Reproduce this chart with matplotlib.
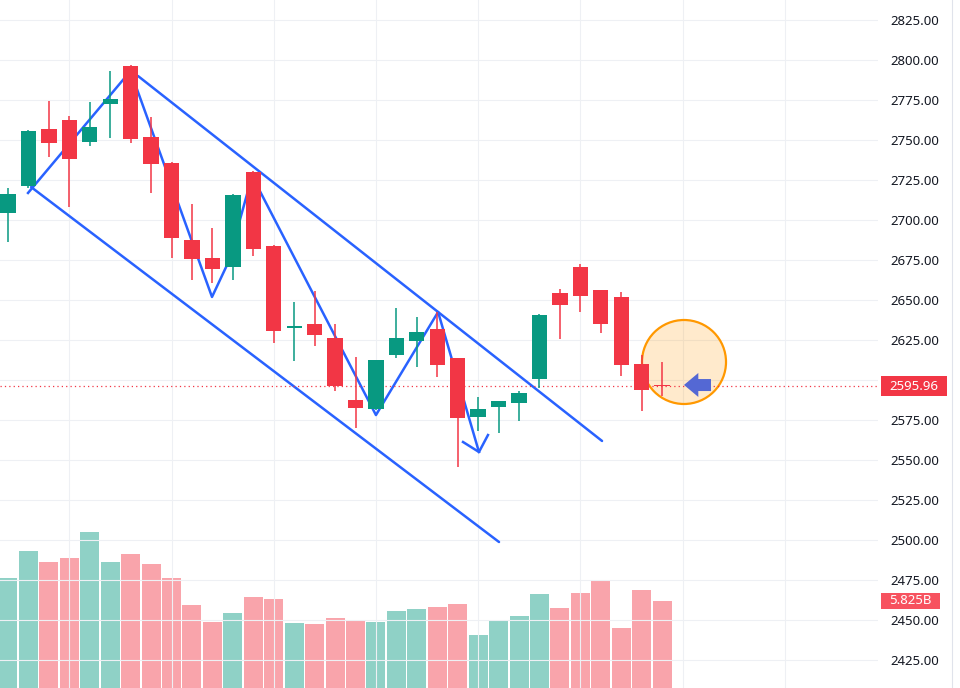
import numpy as np
import matplotlib
matplotlib.use('Agg')
import matplotlib.pyplot as plt
from matplotlib.patches import Rectangle, Ellipse, Polygon
from matplotlib.lines import Line2D

# candles (oldest first)
opens = [2704.4, 2721.25, 2756.9, 2762.5, 2748.75, 2772.5, 2796.25, 2751.9, 2735.6, 2687.5,
         2676.25, 2670.6, 2730.0, 2683.75, 2632.8, 2635.0, 2626.25, 2587.5, 2581.9, 2615.6,
         2624.4, 2631.9, 2613.75, 2576.9, 2583.1, 2585.6, 2600.6, 2654.4, 2670.6, 2656.25,
         2651.9, 2610.0, 2596.4]
highs = [2720.0, 2756.0, 2774.4, 2765.0, 2773.75, 2793.1, 2797.0, 2764.4, 2736.0, 2710.0,
         2695.0, 2716.0, 2730.5, 2684.4, 2648.75, 2655.6, 2635.0, 2614.4, 2612.5, 2645.0,
         2639.4, 2642.5, 2614.0, 2589.4, 2587.0, 2593.1, 2641.0, 2656.9, 2672.5, 2656.5,
         2655.0, 2615.6, 2611.25]
lows = [2686.25, 2720.0, 2739.4, 2708.1, 2746.25, 2751.25, 2748.1, 2716.9, 2676.25, 2662.5,
        2660.6, 2662.5, 2677.5, 2623.1, 2611.9, 2621.25, 2593.1, 2570.0, 2581.0, 2613.75,
        2608.1, 2601.9, 2545.6, 2568.1, 2566.9, 2574.4, 2595.0, 2625.6, 2642.5, 2629.4,
        2602.5, 2580.6, 2590.0]
closes = [2716.25, 2755.6, 2748.1, 2738.1, 2758.1, 2775.6, 2750.6, 2735.0, 2688.75, 2675.6,
          2669.4, 2715.6, 2681.9, 2630.6, 2633.6, 2628.1, 2596.25, 2582.5, 2612.5, 2626.25,
          2630.0, 2609.4, 2576.25, 2581.9, 2586.9, 2591.9, 2640.6, 2646.9, 2652.5, 2635.0,
          2609.4, 2593.75, 2595.96]
volumes = [7.36, 9.17, 8.44, 8.70, 10.45, 8.44, 8.97, 8.30, 7.36, 5.56,
           4.42, 5.02, 6.09, 5.96, 4.35, 4.29, 4.69, 4.49, 4.42, 5.16,
           5.29, 5.42, 5.62, 3.55, 4.55, 4.82, 6.29, 5.36, 6.36, 7.23,
           4.02, 6.56, 5.825]  # billions

price_ticks = np.arange(2425, 2826, 25)

# hand drawings, in (candle index, price)
chan_up_x, chan_up_y = [6.36, 29.06], [2790.0, 2561.9]
chan_lo_x, chan_lo_y = [1.13, 24.02], [2720.6, 2498.75]
zig_x = [0.98, 5.99, 9.98, 10.76, 11.94, 18.0, 21.04, 23.04]
zig_y = [2716.9, 2793.1, 2651.9, 2673.1, 2727.5, 2578.1, 2642.5, 2555.0]
head_x = [22.26, 23.04, 23.48]
head_y = [2561.25, 2555.0, 2565.6]
circ_x, circ_y = 33.07, 2611.25
barrow_x = [33.07, 33.77, 33.77, 34.39, 34.39, 33.77, 33.77]
barrow_y = [2596.9, 2604.4, 2600.6, 2600.6, 2593.1, 2593.1, 2589.4]

UP = '#089981'
DOWN = '#F23645'
BLUE = '#2962FF'

W, H = 960, 688
fig = plt.figure(figsize=(W / 100, H / 100), dpi=100)
fig.patch.set_facecolor('white')
pos = [0, 0, 878 / W, 1]
xlim = (-0.391, 42.56)

axv = fig.add_axes(pos)
ax = fig.add_axes(pos)
ax.patch.set_alpha(0)

n = len(closes)
idx = np.arange(n)
o = np.array(opens)
c = np.array(closes)
colors = np.where(c >= o, UP, DOWN)

# volume pane
axv.bar(idx, volumes, width=0.93, color=colors, alpha=0.45, linewidth=0)
axv.set_xlim(xlim)
axv.set_ylim(0, 46.06)
axv.axis('off')

# grid / price scale
ax.set_xlim(xlim)
ax.set_ylim(2407.5, 2837.5)
ax.set_xticks(np.arange(3, 43, 5))
ax.set_yticks(price_ticks)
ax.set_yticklabels([f'{t:.2f}' for t in price_ticks])
ax.yaxis.tick_right()
ax.tick_params(axis='x', length=0, labelbottom=False)
ax.tick_params(axis='y', length=0, pad=9, labelsize=9.5, labelcolor='#131722')
for lab in ax.get_yticklabels():
    lab.set_fontfamily('Noto Sans')
ax.grid(color='#EEF0F4', lw=0.8)
ax.set_axisbelow(True)
for s in ax.spines.values():
    s.set_visible(False)

# drawings (under candles)
ax.plot(chan_up_x, chan_up_y, color=BLUE, lw=1.8, zorder=2, solid_capstyle='round')
ax.plot(chan_lo_x, chan_lo_y, color=BLUE, lw=1.8, zorder=2, solid_capstyle='round')
ax.plot(zig_x, zig_y, color=BLUE, lw=1.8, zorder=2)
ax.plot(head_x, head_y, color=BLUE, lw=1.8, zorder=2)

ax.add_patch(Ellipse((circ_x, circ_y), 84 / 20.44, 84 / 1.6, facecolor='#FF9800',
                     alpha=0.2, edgecolor='none', zorder=1.5))
ax.add_patch(Ellipse((circ_x, circ_y), 84 / 20.44, 84 / 1.6, facecolor='none',
                     edgecolor='#FF9800', lw=1.6, zorder=2.2))

ax.axhline(closes[-1], color=DOWN, lw=0.9, ls=(0, (1, 2.5)), zorder=2.5)

# candles
ax.vlines(idx, lows, highs, colors=colors, lw=1.1, zorder=3)
body = np.maximum(np.abs(c - o), 1.0)
ax.bar(idx, body, bottom=np.minimum(o, c), width=0.75, color=colors, linewidth=0, zorder=4)

ax.add_patch(Polygon(list(zip(barrow_x, barrow_y)), closed=True, facecolor='#5468D4',
                     edgecolor='none', zorder=6))

# last price / volume labels on the scale
fig.canvas.draw()
yp = ax.transData.transform((0, closes[-1]))[1] / H
fig.add_artist(Rectangle((881 / W, yp - 10 / H), 66 / W, 20 / H, transform=fig.transFigure,
                         facecolor=DOWN, edgecolor='none', zorder=5))
fig.text(914 / W, yp, f'{closes[-1]:.2f}', ha='center', va='center', color='white',
         fontsize=9.5, family='Noto Sans', zorder=6)

yv = axv.transData.transform((0, volumes[-1]))[1] / H
fig.add_artist(Rectangle((881 / W, yv - 8 / H), 59 / W, 16 / H, transform=fig.transFigure,
                         facecolor='#F7525F', edgecolor='none', zorder=5))
fig.text(910.5 / W, yv, f'{volumes[-1]:.3f}B', ha='center', va='center', color='white',
         fontsize=9.5, family='Noto Sans', zorder=6)

fig.add_artist(Line2D([952 / W, 952 / W], [0, 1], transform=fig.transFigure,
                      color='#E0E3EB', lw=0.8))

fig.savefig('out.png', dpi=100)
